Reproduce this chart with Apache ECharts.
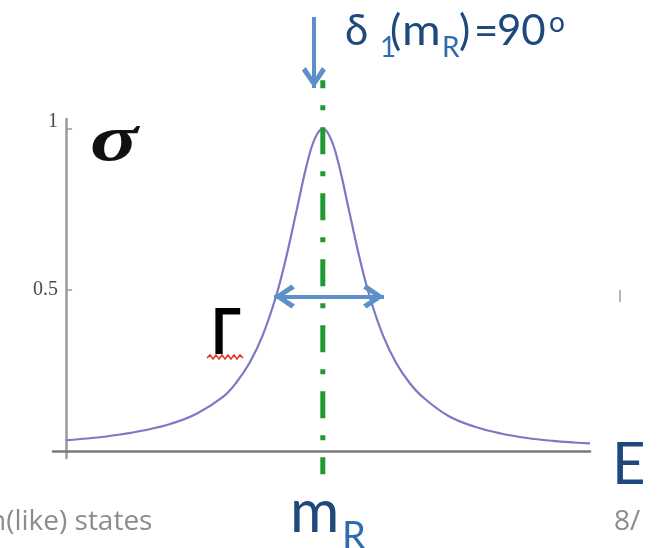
<!DOCTYPE html>
<html>
<head>
<meta charset="utf-8">
<script src="https://cdn.jsdelivr.net/npm/echarts@6/dist/echarts.min.js"></script>
<style>
  html, body { margin: 0; padding: 0; background: #ffffff; }
  #chart { width: 661px; height: 548px; }
</style>
</head>
<body>
<div id="chart"></div>
<script>
// Breit–Wigner style resonance peak: cross section σ versus energy E
const energy = [0, 0.5, 1.0, 1.5, 2.0, 2.5, 3.0, 3.25, 3.5, 3.75, 4.0, 4.2, 4.4, 4.6, 4.75, 4.9,
                5.05, 5.2, 5.4, 5.6, 5.8, 6.05, 6.3, 6.55, 6.8, 7.3, 7.8, 8.3, 8.8, 9.3, 9.7, 10];
const sigma  = [0.035, 0.042, 0.052, 0.066, 0.086, 0.118, 0.170, 0.214, 0.274, 0.359, 0.477, 0.601, 0.747, 0.892, 0.970, 1.0,
                0.970, 0.892, 0.747, 0.601, 0.477, 0.359, 0.274, 0.214, 0.170, 0.110, 0.077, 0.056, 0.042, 0.033, 0.028, 0.025];

// y-axis tick values and their labels
const yTicks = [0.5, 1];
const yTickLabels = ['0.5', '1'];

// resonance position and annotation extents (in E / σ units)
const resonanceMass = 4.9;
const markerSpan = [1.15, -0.07];                     // dash-dot line, top to bottom
const phaseArrow = [[4.73, 1.346], [4.73, 1.126]];    // δ1(mR)=90° pointer, tail to tip
const widthArrow = [[3.968, 0.48], [6.068, 0.48]];    // Γ: full width near half maximum

const chart = echarts.init(document.getElementById('chart'), null, { renderer: 'canvas' });

// open chevron arrow head, pointing up, tip at the top of its box
const chevron = 'path://M12,0 L24,17 L20,20.5 L12,8 L4,20.5 L0,17 Z';
const headSize = [24, 21];
const arrowBlue = '#5d8fc9';
const titleBlue = '#1f497d';
const subBlue = '#2f6cad';
const slideGray = '#8c8c8c';

function txt(text, x, y, font, fill, extra) {
  return Object.assign({
    type: 'text', x: x, y: y, silent: true, z: 10,
    style: { text: text, font: font, fill: fill,
             align: 'left', verticalAlign: 'middle', textAlign: 'left', textVerticalAlign: 'middle' }
  }, extra || {});
}

const option = {
  animation: false,
  backgroundColor: '#ffffff',
  grid: { left: 53, right: 71, top: 119, bottom: 90, outerBoundsMode: 'none' },
  xAxis: {
    type: 'value', min: -0.25, max: 10,
    axisLine: { show: true, onZero: true, lineStyle: { color: '#7a7a7a', width: 2.5 } },
    axisTick: { show: false }, axisLabel: { show: false }, splitLine: { show: false }
  },
  yAxis: {
    type: 'value', min: -0.02, max: 1.03,
    axisLine: { show: true, onZero: true, lineStyle: { color: '#9a9a9a', width: 2.5 } },
    axisTick: { show: true, inside: true, length: 6, customValues: yTicks, lineStyle: { color: '#9a9a9a', width: 1.5 } },
    axisLabel: {
      show: true, customValues: yTicks, margin: -5,
      fontFamily: 'Liberation Serif', fontSize: 20, color: '#4a4a4a',
      formatter: function (v) {
        const label = yTickLabels[yTicks.indexOf(v)];
        return v === 1 ? '{top|' + label + '}' : label;
      },
      rich: { top: { fontFamily: 'Liberation Serif', fontSize: 20, color: '#4a4a4a', padding: [0, 0, 13, 0] } }
    },
    splitLine: { show: false }
  },
  series: [
    {
      name: 'σ(E)', type: 'line', z: 3,
      data: energy.map((e, i) => [e, sigma[i]]),
      symbol: 'none', smooth: 0.4,
      lineStyle: { color: '#7b78c5', width: 2.2 }
    },
    {
      name: 'mR', type: 'line', z: 4, clip: false,
      data: markerSpan.map(s => [resonanceMass, s]),
      symbol: 'none',
      lineStyle: { color: '#1f9a33', width: 5, type: [27, 17, 5, 17], dashOffset: 19, cap: 'butt' }
    },
    {
      name: 'arrow shafts', type: 'lines', coordinateSystem: 'cartesian2d', z: 5, clip: false,
      symbol: 'none',
      lineStyle: { color: arrowBlue, width: 4, opacity: 1, curveness: 0 },
      data: [{ coords: phaseArrow }, { coords: widthArrow }]
    },
    {
      name: 'arrow heads', type: 'scatter', z: 6, clip: false, silent: true,
      symbol: chevron, symbolSize: headSize,
      itemStyle: { color: arrowBlue, opacity: 1 },
      data: [
        { value: phaseArrow[1], symbolRotate: 180, symbolOffset: [0, -headSize[1] / 2] },
        { value: widthArrow[0], symbolRotate: 90, symbolOffset: [headSize[1] / 2, 0] },
        { value: widthArrow[1], symbolRotate: -90, symbolOffset: [-headSize[1] / 2, 0] }
      ]
    }
  ],
  graphic: [
    // axis title σ
    txt('σ', 90, 143, 'bold italic 66px "Liberation Serif"', '#111111', { scaleX: 1.35 }),
    // width symbol Γ with its squiggle underline
    txt('Γ', 211, 333, 'bold 64px Lato', '#000000', { scaleX: 0.85 }),
    {
      type: 'polyline', silent: true, z: 10,
      shape: { points: [[207, 358], [210, 355], [213, 359], [216, 355], [219, 359], [222, 355], [225, 359],
                        [228, 355], [231, 359], [234, 355], [237, 359], [240, 355], [243, 358]] },
      style: { stroke: '#e8302a', lineWidth: 1.5, fill: null }
    },
    // phase condition at the resonance
    txt('δ', 345, 31, '42px Lato', titleBlue),
    txt('1', 380, 48, '28px Lato', subBlue),
    txt('(', 390, 31, '42px Lato', titleBlue),
    txt('m', 402, 31, '42px Lato', titleBlue, { scaleX: 1.12 }),
    txt('R', 442, 48, '28px Lato', subBlue),
    txt(')', 459, 31, '42px Lato', titleBlue),
    txt('=', 474, 31, '42px Lato', titleBlue),
    txt('90', 497, 31, '42px Lato', titleBlue),
    txt('o', 549, 23, '28px Lato', titleBlue),
    // energy axis title and resonance mass
    txt('E', 612, 465, '58px Lato', titleBlue),
    txt('m', 290, 513, '60px Lato', titleBlue),
    txt('R', 342, 537, '38px Lato', subBlue),
    // slide footer
    txt('n(like) states', -11, 522, '28px "Open Sans"', slideGray),
    txt('8/', 614, 522, '28px "Open Sans"', slideGray),
    { type: 'rect', silent: true, z: 10, shape: { x: 619, y: 290, width: 2, height: 12 }, style: { fill: '#b5b5b5' } }
  ]
};

chart.setOption(option);
</script>
</body>
</html>
